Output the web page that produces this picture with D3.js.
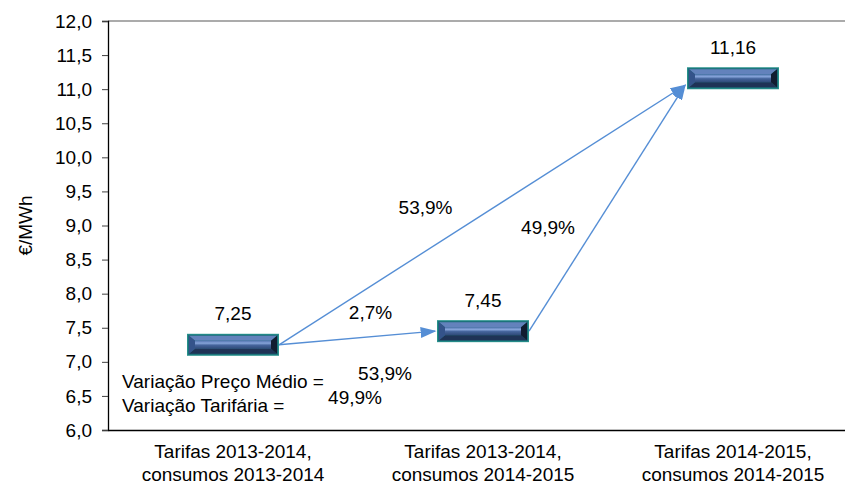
<!DOCTYPE html>
<html>
<head>
<meta charset="utf-8">
<script src="https://cdn.jsdelivr.net/npm/d3@7"></script>
<style>
  body { margin: 0; background: #fff; }
  svg { display: block; font-family: "Liberation Sans", Arial, sans-serif; }
</style>
</head>
<body>
<svg id="chart" width="845" height="486"></svg>
<script>
// data
const categories = ["Tarifas 2013-2014,\nconsumos 2013-2014", "Tarifas 2013-2014,\nconsumos 2014-2015", "Tarifas 2014-2015,\nconsumos 2014-2015"];
const values = [7.25, 7.45, 11.16];
const valueLabels = ["7,25", "7,45", "11,16"];
const yTicks = [6, 6.5, 7, 7.5, 8, 8.5, 9, 9.5, 10, 10.5, 11, 11.5, 12];

// arrows between the bars, with the variation label placed in data space
const arrowFrom = [0, 0, 1];
const arrowTo = [1, 2, 2];
const arrowLabels = ["2,7%", "53,9%", "49,9%"];
const labelAt = [[0.55, 7.72], [0.77, 9.26], [1.26, 8.98]];  // [category index, €/MWh]

const summaryText = ["Variação Preço Médio =", "Variação Tarifária ="];
const summaryValues = ["53,9%", "49,9%"];

const width = 845, height = 486;
const margin = { top: 21, right: -13, bottom: 56, left: 108 };
const svg = d3.select("#chart");

const x = d3.scaleBand()
  .domain(categories)
  .range([margin.left, width - margin.right]);
const y = d3.scaleLinear()
  .domain([6, 12])
  .range([height - margin.bottom, margin.top]);

const step = x.step();
const cx = (t) => x(categories[0]) + step / 2 + t * step;  // fractional category position

const barW = 92, barH = 22;
const arrowColor = "#558ED5";
const textColor = "#000";
const fmt = (d) => d3.format(".1f")(d).replace(".", ",");

// gradients for the bevelled bars
const defs = svg.append("defs");
const face = defs.append("linearGradient").attr("id", "face")
  .attr("x1", 0).attr("y1", 0).attr("x2", 0).attr("y2", 1);
face.append("stop").attr("offset", "0%").attr("stop-color", "#5576b2");
face.append("stop").attr("offset", "30%").attr("stop-color", "#86a4d9");
face.append("stop").attr("offset", "55%").attr("stop-color", "#45649c");
face.append("stop").attr("offset", "100%").attr("stop-color", "#2f4a78");

defs.append("marker")
  .attr("id", "head")
  .attr("viewBox", "0 0 10 10")
  .attr("refX", 9).attr("refY", 5)
  .attr("markerWidth", 16).attr("markerHeight", 11)
  .attr("markerUnits", "userSpaceOnUse")
  .attr("preserveAspectRatio", "none")
  .attr("orient", "auto")
  .append("path")
  .attr("d", "M0,0 L10,5 L0,10 Z")
  .attr("fill", arrowColor);

// frame: top line
svg.append("line")
  .attr("x1", margin.left).attr("x2", width)
  .attr("y1", y(12)).attr("y2", y(12))
  .attr("stroke", "#595959").attr("stroke-width", 1.2);

// y axis
const yAxis = svg.append("g")
  .attr("transform", `translate(${margin.left},0)`)
  .call(d3.axisLeft(y).tickValues(yTicks).tickFormat(fmt).tickSize(6).tickPadding(10));
yAxis.select(".domain").attr("stroke", "#000").attr("stroke-width", 1.3);
yAxis.selectAll(".tick line").attr("stroke", "#404040");
yAxis.selectAll(".tick text")
  .attr("font-size", 19).attr("fill", textColor)
  .attr("font-family", "'Liberation Sans', Arial, sans-serif");

svg.append("text")
  .attr("transform", `translate(25,${(y(6) + y(12)) / 2}) rotate(-90)`)
  .attr("text-anchor", "middle")
  .attr("dy", "0.35em")
  .attr("font-size", 19)
  .attr("fill", textColor)
  .text("€/MWh");

// x axis
const xAxis = svg.append("g")
  .attr("transform", `translate(0,${y(6)})`)
  .call(d3.axisBottom(x).tickSize(0).tickPadding(0));
xAxis.select(".domain").attr("stroke", "#000").attr("stroke-width", 1.3);
xAxis.selectAll(".tick text").each(function (d) {
  const t = d3.select(this).text(null)
    .attr("font-size", 19).attr("fill", textColor)
    .attr("font-family", "'Liberation Sans', Arial, sans-serif")
    .attr("y", 0).attr("dy", null);
  d.split("\n").forEach((line, i) => {
    t.append("tspan").attr("x", 0).attr("y", 28 + i * 23).text(line);
  });
});

// arrows
const marks = values.map((v, i) => ({
  cx: x(categories[i]) + step / 2,
  cy: y(v),
  v
}));

svg.append("g").selectAll("line")
  .data(arrowFrom.map((f, i) => ({ f, t: arrowTo[i] })))
  .join("line")
  .attr("x1", (d) => marks[d.f].cx + barW / 2)
  .attr("y1", (d) => marks[d.f].cy)
  .attr("x2", (d) => marks[d.t].cx - barW / 2 - 2)
  .attr("y2", (d) => marks[d.t].cy + (marks[d.t].v - marks[d.f].v > 1 ? 7 : 0))
  .attr("stroke", arrowColor)
  .attr("stroke-width", 1.4)
  .attr("marker-end", "url(#head)");

// bevelled bars
const bars = svg.append("g").selectAll("g")
  .data(marks)
  .join("g")
  .attr("transform", (d) => `translate(${d.cx - barW / 2},${d.cy - barH / 2})`);

const b = 2, dx = 6, dy = 5;
const w = barW, h = barH;
bars.append("rect").attr("width", w).attr("height", h).attr("fill", "#27918c");
bars.append("rect").attr("x", b - 1).attr("y", b - 1).attr("width", w - 2 * b + 2).attr("height", h - 2 * b + 2).attr("fill", "#1b6e78");
const poly = (pts) => pts.map((p) => p.join(",")).join(" ");
// top bevel
bars.append("polygon").attr("fill", "#6382bc")
  .attr("points", poly([[b, b], [w - b, b], [w - b - dx, b + dy], [b + dx, b + dy]]));
// bottom bevel
bars.append("polygon").attr("fill", "#1f3356")
  .attr("points", poly([[b, h - b], [w - b, h - b], [w - b - dx, h - b - dy], [b + dx, h - b - dy]]));
// left bevel
bars.append("polygon").attr("fill", "#34538a")
  .attr("points", poly([[b, b], [b + dx, b + dy], [b + dx, h - b - dy], [b, h - b]]));
// right bevel
bars.append("polygon").attr("fill", "#111c30")
  .attr("points", poly([[w - b, b], [w - b - dx, b + dy], [w - b - dx, h - b - dy], [w - b, h - b]]));
// face
bars.append("rect")
  .attr("x", b + dx).attr("y", b + dy)
  .attr("width", w - 2 * (b + dx)).attr("height", h - 2 * (b + dy))
  .attr("fill", "url(#face)");

// value labels
svg.append("g").selectAll("text")
  .data(marks)
  .join("text")
  .attr("x", (d) => d.cx)
  .attr("y", (d) => d.cy - barH / 2 - 20)
  .attr("dy", "0.35em")
  .attr("text-anchor", "middle")
  .attr("font-size", 19)
  .attr("fill", textColor)
  .text((d, i) => valueLabels[i]);

// arrow labels
svg.append("g").selectAll("text")
  .data(arrowLabels)
  .join("text")
  .attr("x", (d, i) => cx(labelAt[i][0]))
  .attr("y", (d, i) => y(labelAt[i][1]))
  .attr("dy", "0.35em")
  .attr("text-anchor", "middle")
  .attr("font-size", 19)
  .attr("fill", textColor)
  .text((d) => d);

// summary
svg.append("g").selectAll("text")
  .data(summaryText)
  .join("text")
  .attr("x", 122)
  .attr("y", (d, i) => 381 + i * 24)
  .attr("dy", "0.35em")
  .attr("font-size", 19)
  .attr("fill", textColor)
  .text((d) => d);

svg.append("g").selectAll("text")
  .data(summaryValues)
  .join("text")
  .attr("x", (d, i) => [385, 355][i])
  .attr("y", (d, i) => 373 + i * 24)
  .attr("dy", "0.35em")
  .attr("text-anchor", "middle")
  .attr("font-size", 19)
  .attr("fill", textColor)
  .text((d) => d);
</script>
</body>
</html>
